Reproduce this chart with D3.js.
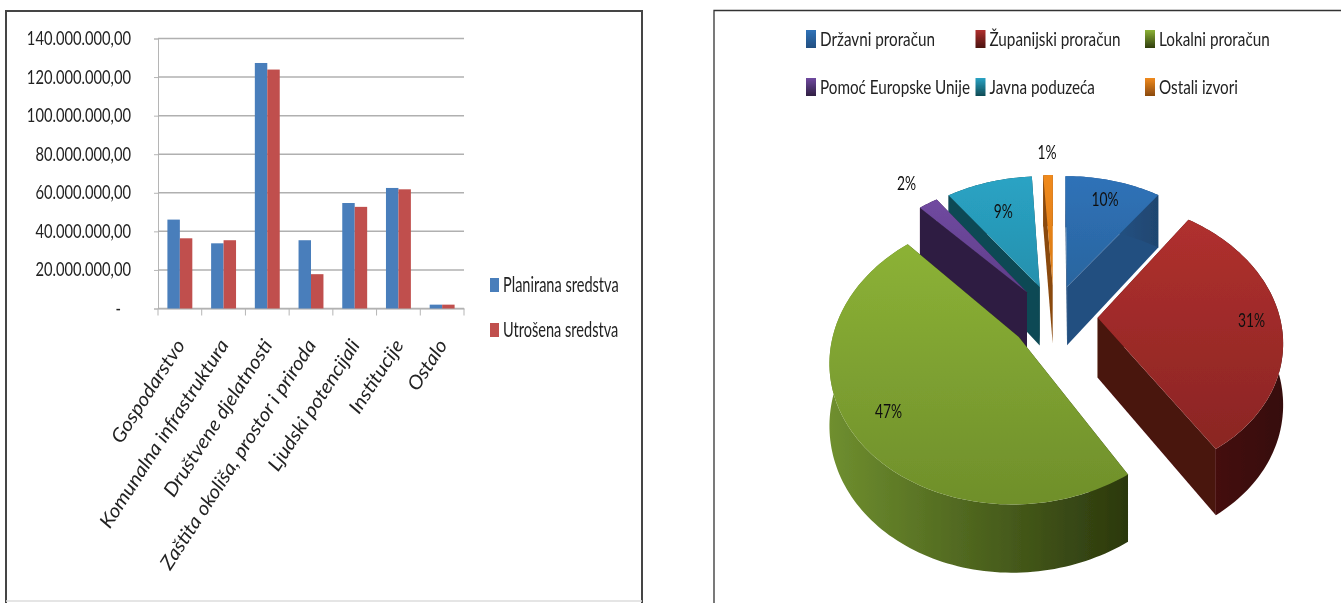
<!DOCTYPE html>
<html>
<head>
<meta charset="utf-8">
<script src="https://cdn.jsdelivr.net/npm/d3@7"></script>
<style>
body { margin: 0; background: #fff; }
text { font-family: Lato, "Open Sans", sans-serif; fill: #222; }
</style>
</head>
<body>
<div id="chart"></div>
<script>
// bar chart data
var categories = ["Gospodarstvo", "Komunalna infrastruktura", "Društvene djelatnosti", "Zaštita okoliša, prostor i priroda", "Ljudski potencijali", "Institucije", "Ostalo"];
var planirana = [46100000, 33800000, 127300000, 35400000, 54700000, 62500000, 2000000];
var utrosena = [36400000, 35400000, 123900000, 17800000, 52700000, 61800000, 2000000];
var seriesNames = ["Planirana sredstva", "Utrošena sredstva"];
var yTicks = [0, 20000000, 40000000, 60000000, 80000000, 100000000, 120000000, 140000000];
var yTickLabels = ["-", "20.000.000,00", "40.000.000,00", "60.000.000,00", "80.000.000,00", "100.000.000,00", "120.000.000,00", "140.000.000,00"];

// pie chart data
var sources = ["Državni proračun", "Županijski proračun", "Lokalni proračun", "Pomoć Europske Unije", "Javna poduzeća", "Ostali izvori"];
var shares = [10, 31, 47, 2, 9, 1];

var barColors = ["#4a7ebb", "#c0504d"];
var topColors = [["#2f72b8", "#2a659f"], ["#b0302e", "#8a2523"], ["#8cb236", "#6f8f2b"], ["#7049a0", "#5f3f8a"], ["#2aa3c4", "#2590ad"], ["#f08a1d", "#d97a15"]];
var wallColors = ["#234f80", "#4a120f", "#2f3c0e", "#2f1f42", "#0f4a54", "#8a4a10"];
var outerColors = [["#2a5f98", "#1f4670"], ["#4a120f", "#360c0a"], ["#6f8f2f", "#2b380d"], ["#2f1f42", "#2f1f42"], ["#0f4a54", "#0f4a54"], ["#8a4a10", "#8a4a10"]];

var svg = d3.select("#chart").append("svg")
    .attr("width", 1341)
    .attr("height", 603)
    .style("display", "block");

var defs = svg.append("defs");
defs.append("filter").attr("id", "soft")
  .append("feGaussianBlur").attr("stdDeviation", 0.45);
defs.append("filter").attr("id", "frameBlur")
  .append("feGaussianBlur").attr("stdDeviation", 0.7);

function gradient(id, c0, c1, vertical) {
  var g = defs.append("linearGradient").attr("id", id)
      .attr("x1", 0).attr("y1", 0)
      .attr("x2", vertical ? 0 : 1).attr("y2", vertical ? 1 : 0);
  g.append("stop").attr("offset", "0%").attr("stop-color", c0);
  g.append("stop").attr("offset", "100%").attr("stop-color", c1);
  return "url(#" + id + ")";
}

// frames
var frames = svg.append("g").attr("filter", "url(#frameBlur)");
frames.append("path").attr("d", "M6,603V11H642V603").attr("fill", "none").attr("stroke", "#444").attr("stroke-width", 2);
frames.append("path").attr("d", "M6,601H642").attr("fill", "none").attr("stroke", "#ddd").attr("stroke-width", 1.5);
svg.append("path").attr("d", "M714,603V10.5H1341").attr("fill", "none").attr("stroke", "#333").attr("stroke-width", 1.3);

var root = svg.append("g").attr("filter", "url(#soft)");

// ---------- bar chart ----------
var margin = {left: 158, right: 464, top: 38.5, bottom: 308.5};

var x0 = d3.scaleBand().domain(categories).range([margin.left, margin.right]).paddingInner(0.43).paddingOuter(0.215);
var x1 = d3.scaleBand().domain(seriesNames).range([0, x0.bandwidth()]);
var y = d3.scaleLinear().domain([0, 140000000]).range([margin.bottom, margin.top]);

var left = root.append("g");

var yAxis = left.append("g")
    .attr("transform", "translate(" + margin.left + ",0)")
    .call(d3.axisLeft(y).tickValues(yTicks).tickSize(4).tickFormat(function(d, i) { return yTickLabels[i]; }));
yAxis.select(".domain").attr("stroke", "#b5b5b5");
yAxis.selectAll(".tick line").attr("stroke", "#b5b5b5");
yAxis.selectAll(".tick text")
    .attr("x", 0).attr("dy", "0.35em")
    .attr("transform", function(d) { return "translate(" + (d === 0 ? -37 : -27) + ",-1) scale(0.92,1.25)"; })
    .style("font-size", "16px").style("font-family", "Lato");

left.append("g").selectAll("line")
    .data(yTicks)
    .enter().append("line")
      .attr("x1", margin.left).attr("x2", margin.right)
      .attr("y1", function(d) { return y(d); }).attr("y2", function(d) { return y(d); })
      .attr("stroke", "#b0b0b0").attr("stroke-width", 1.5);

var xAxis = left.append("g")
    .attr("transform", "translate(0," + margin.bottom + ")")
    .call(d3.axisBottom(x0).tickSize(0).tickFormat(""));
xAxis.select(".domain").attr("stroke", "#b5b5b5");
left.append("g").selectAll("line")
    .data(d3.range(categories.length + 1))
    .enter().append("line")
      .attr("x1", function(d) { return margin.left + d * x0.step(); })
      .attr("x2", function(d) { return margin.left + d * x0.step(); })
      .attr("y1", margin.bottom).attr("y2", margin.bottom + 7)
      .attr("stroke", "#b5b5b5");

[planirana, utrosena].forEach(function(values, s) {
  left.append("g").selectAll("rect")
      .data(values)
      .enter().append("rect")
        .attr("x", function(d, i) { return x0(categories[i]) + x1(seriesNames[s]); })
        .attr("y", function(d) { return y(d); })
        .attr("width", x1.bandwidth())
        .attr("height", function(d) { return y(0) - y(d); })
        .attr("fill", barColors[s]);
});

left.append("g").selectAll("text")
    .data(categories)
    .enter().append("text")
      .attr("text-anchor", "end")
      .attr("transform", function(d) {
        return "translate(" + (x0(d) + x0.bandwidth() / 2 + 6) + ",345) rotate(-57) scale(1.29,1.2)";
      })
      .style("font-size", "16px")
      .style("font-style", "italic")
      .text(function(d) { return d; });

var leg = left.append("g").selectAll("g")
    .data(seriesNames)
    .enter().append("g")
      .attr("transform", function(d, i) { return "translate(490," + (285 + i * 45) + ")"; });
leg.append("rect").attr("y", -7).attr("width", 9).attr("height", 14)
    .attr("fill", function(d, i) { return barColors[i]; });
leg.append("text")
    .attr("transform", "translate(13,0) scale(0.91,1.3)")
    .attr("dy", "0.35em")
    .style("font-size", "16px")
    .text(function(d) { return d; });

// ---------- exploded 3D pie ----------
var pieRight = root.append("g");
var cx = 1054, cy = 316.7, R = 182, Ry = 135.5, persp = 0.15, explode = 0.24, depth = 60;

var pie = d3.pie().sort(null).value(function(d) { return d; });
var arcs = pie(shares);

// pie plane -> screen, the near side is drawn bigger
function project(u, v) {
  var w = 1 - persp * v;
  return [cx + R * u / w, cy + Ry * v / w];
}
function planePoint(a, r, mid) {
  return [Math.sin(mid) * explode + Math.sin(a) * r, -Math.cos(mid) * explode - Math.cos(a) * r];
}
function drop(pt) {
  return depth * (1 + 0.12 * pt[1]);
}
var line = d3.line();

// back slices first
var order = d3.range(arcs.length).sort(function(a, b) {
  var ma = (arcs[a].startAngle + arcs[a].endAngle) / 2, mb = (arcs[b].startAngle + arcs[b].endAngle) / 2;
  return -Math.cos(mb) < -Math.cos(ma) ? 1 : -1;
});

var labelRadius = [0.8, 0.84, 0.8, 1.25, 0.69, 1.24];

order.forEach(function(i) {
  var d = arcs[i];
  var mid = (d.startAngle + d.endAngle) / 2;
  var n = Math.max(4, Math.ceil((d.endAngle - d.startAngle) * 40));
  var plane = d3.range(n + 1).map(function(k) {
    return planePoint(d.startAngle + (d.endAngle - d.startAngle) * k / n, 1, mid);
  });
  var apex = planePoint(0, 0, mid);
  var rim = plane.map(function(p) { return project(p[0], p[1]); });
  var rimLow = plane.map(function(p) { var s = project(p[0], p[1]); return [s[0], s[1] + drop(p)]; }).reverse();
  var a = project(apex[0], apex[1]);
  var aLow = [a[0], a[1] + drop(apex)];
  var g = pieRight.append("g");

  // side walls
  [[rim[0], rimLow[n]], [rim[n], rimLow[0]]].forEach(function(edge) {
    g.append("path")
        .attr("d", line([a, edge[0], edge[1], aLow]) + "Z")
        .attr("fill", wallColors[i]);
  });
  g.append("path")
      .attr("d", line(rim.concat(rimLow)) + "Z")
      .attr("fill", gradient("outer" + i, outerColors[i][0], outerColors[i][1], false));
  g.append("path")
      .attr("d", line([a].concat(rim)) + "Z")
      .attr("fill", gradient("top" + i, topColors[i][0], topColors[i][1], true));
});

// percent labels stay above all slices
pieRight.append("g").selectAll("text")
    .data(arcs)
    .enter().append("text")
      .attr("text-anchor", "middle")
      .attr("transform", function(d, i) {
        var mid = (d.startAngle + d.endAngle) / 2;
        var p = planePoint(mid, labelRadius[i], mid);
        var s = project(p[0], p[1]);
        return "translate(" + s[0] + "," + (s[1] + 6) + ") scale(0.92,1.3)";
      })
      .style("font-size", "15px")
      .style("fill", "#111")
      .text(function(d) { return d.data + "%"; });

// pie legend
var pieLeg = pieRight.append("g").selectAll("g")
    .data(sources)
    .enter().append("g")
      .attr("transform", function(d, i) {
        return "translate(" + (806 + (i % 3) * 169.5) + "," + (39 + Math.floor(i / 3) * 48) + ")";
      });
pieLeg.append("rect").attr("y", -9).attr("width", 10).attr("height", 18)
    .attr("fill", function(d, i) { return gradient("swatch" + i, topColors[i][0], wallColors[i], true); });
pieLeg.append("text")
    .attr("transform", "translate(14,0) scale(0.985,1.3)")
    .attr("dy", "0.35em")
    .style("font-size", "15.5px")
    .text(function(d) { return d; });
</script>
</body>
</html>
